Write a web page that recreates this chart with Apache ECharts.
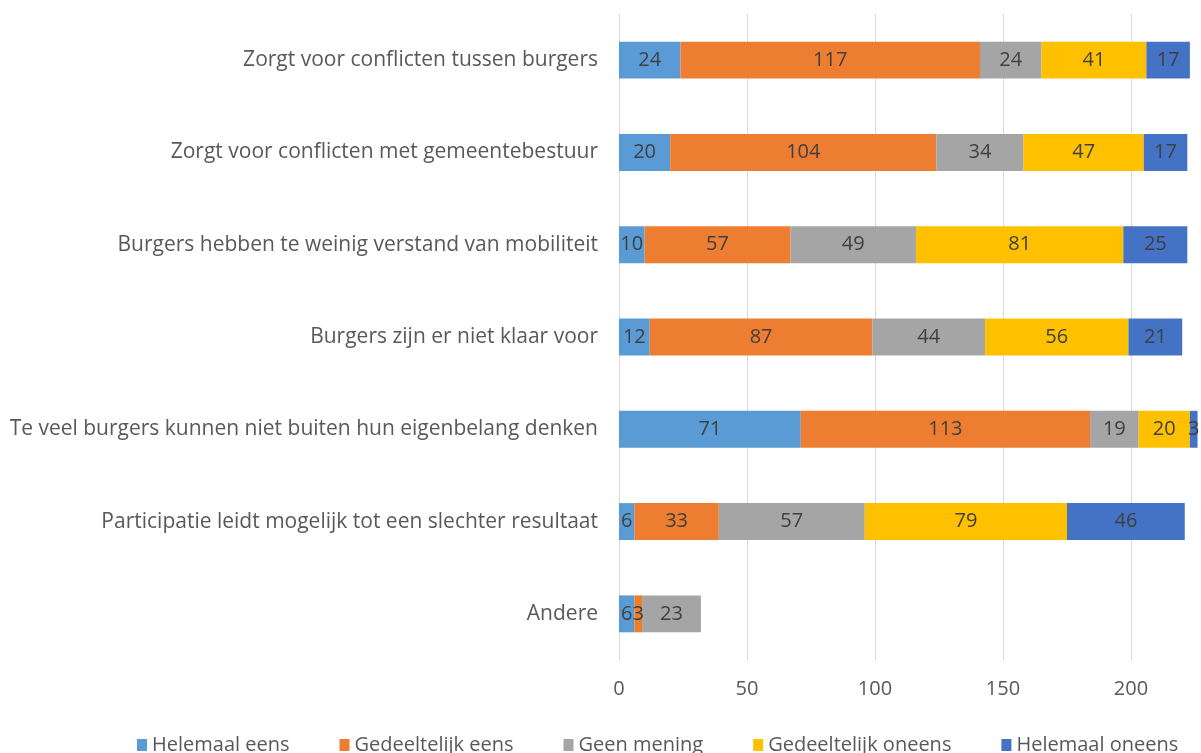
<!DOCTYPE html>
<html>
<head>
<meta charset="utf-8">
<script src="https://cdn.jsdelivr.net/npm/echarts@6/dist/echarts.min.js"></script>
<style>
  html, body { margin: 0; padding: 0; background: #fff; }
  #chart { width: 1201px; height: 753px; }
</style>
</head>
<body>
<div id="chart"></div>
<script>
  var categories = [
    'Zorgt voor conflicten tussen burgers',
    'Zorgt voor conflicten met gemeentebestuur',
    'Burgers hebben te weinig verstand van mobiliteit',
    'Burgers zijn er niet klaar voor',
    'Te veel burgers kunnen niet buiten hun eigenbelang denken',
    'Participatie leidt mogelijk tot een slechter resultaat',
    'Andere'
  ];
  var seriesNames = ['Helemaal eens', 'Gedeeltelijk eens', 'Geen mening', 'Gedeeltelijk oneens', 'Helemaal oneens'];
  var helemaalEens = [24, 20, 10, 12, 71, 6, 6];
  var gedeeltelijkEens = [117, 104, 57, 87, 113, 33, 3];
  var geenMening = [24, 34, 49, 44, 19, 57, 23];
  var gedeeltelijkOneens = [41, 47, 81, 56, 20, 79, null];
  var helemaalOneens = [17, 17, 25, 21, 3, 46, null];
  var xTicks = [0, 50, 100, 150, 200, 250];

  var colors = ['#5B9BD5', '#ED7D31', '#A5A5A5', '#FFC000', '#4472C4'];
  var values = [helemaalEens, gedeeltelijkEens, geenMening, gedeeltelijkOneens, helemaalOneens];
  var font = 'Open Sans';

  var myChart = echarts.init(document.getElementById('chart'));
  var series = seriesNames.map(function (name, i) {
    return {
      name: name,
      type: 'bar',
      stack: 'total',
      barCategoryGap: '60%',
      itemStyle: { color: colors[i] },
      label: {
        show: true,
        position: 'inside',
        color: '#404040',
        fontFamily: font,
        fontSize: 20
      },
      data: values[i]
    };
  });

  var option = {
    animation: false,
    textStyle: { fontFamily: font },
    // the 250 gridline falls outside the picture, as in the reference
    grid: { left: 619, width: 640, top: 14, bottom: 93, containLabel: false, outerBoundsMode: 'none' },
    legend: {
      bottom: -7,
      left: 132,
      itemWidth: 10,
      itemHeight: 12,
      itemGap: 50,
      itemTextGap: 6,
      icon: 'rect',
      textStyle: { color: '#595959', fontSize: 20, fontFamily: font },
      data: seriesNames
    },
    xAxis: {
      type: 'value',
      min: xTicks[0],
      max: xTicks[xTicks.length - 1],
      interval: 50,
      axisLine: { show: false },
      axisTick: { show: false },
      axisLabel: { color: '#595959', fontSize: 20, margin: 19, fontFamily: font },
      splitLine: { lineStyle: { color: '#d9d9d9', width: 1 } }
    },
    yAxis: {
      type: 'category',
      inverse: true,
      data: categories,
      axisLine: { show: false },
      axisTick: { show: false },
      axisLabel: { color: '#595959', fontSize: 21, margin: 21, fontFamily: font }
    },
    series: series
  };

  myChart.setOption(option);
</script>
</body>
</html>
